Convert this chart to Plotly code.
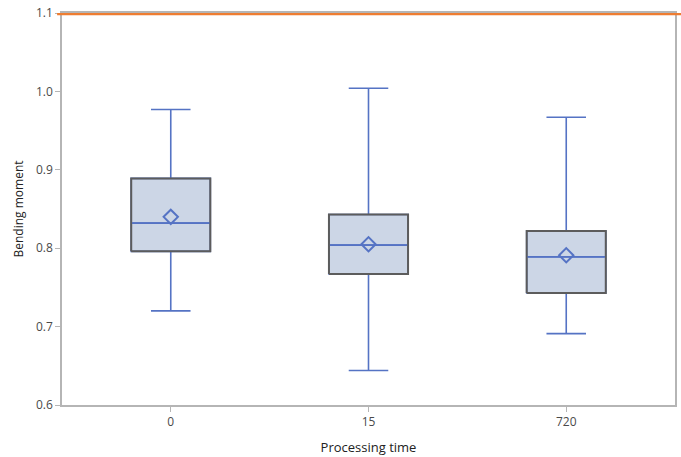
import plotly.graph_objects as go

categories = ["0", "15", "720"]
q1 = [0.796, 0.767, 0.743]
median = [0.832, 0.804, 0.789]
q3 = [0.889, 0.843, 0.822]
lower_whisker = [0.720, 0.644, 0.691]
upper_whisker = [0.977, 1.004, 0.967]
means = [0.840, 0.805, 0.791]

blue = "#5573C4"
fill = "#CCD6E6"
outline = "#5C5C5C"
axis_col = "#B5B5B5"
text_col = "#4A4A4A"
half = 0.2

pos = list(range(len(categories)))

fig = go.Figure()
fig.add_trace(go.Box(
    x=pos, q1=q1, median=median, q3=q3,
    lowerfence=lower_whisker, upperfence=upper_whisker,
    width=2 * half, whiskerwidth=0.5,
    fillcolor=fill, line=dict(color=blue, width=1.6),
    boxpoints=False, showlegend=False, hoverinfo="skip",
))

# gray box outlines on top
rx, ry = [], []
for p, a, b in zip(pos, q1, q3):
    rx += [p - half, p + half, p + half, p - half, p - half, None]
    ry += [a, a, b, b, a, None]
fig.add_trace(go.Scatter(x=rx, y=ry, mode="lines", line=dict(color=outline, width=2),
                         showlegend=False, hoverinfo="skip"))
# redraw medians in blue across box
mx, my = [], []
for p, m in zip(pos, median):
    mx += [p - half + 0.005, p + half - 0.005, None]
    my += [m, m, None]
fig.add_trace(go.Scatter(x=mx, y=my, mode="lines", line=dict(color=blue, width=1.8),
                         showlegend=False, hoverinfo="skip"))

fig.add_trace(go.Scatter(
    x=pos, y=means, mode="markers",
    marker=dict(symbol="diamond-open", size=11, color=blue, line=dict(width=2, color=blue)),
    showlegend=False, hoverinfo="skip",
))

fig.add_shape(type="line", xref="paper", yref="y", x0=-0.008, x1=1.02, y0=1.1, y1=1.1,
              line=dict(color="#EE7D31", width=4.5), layer="above")

fig.update_layout(
    width=681, height=457,
    margin=dict(l=62, r=4, t=9, b=52),
    paper_bgcolor="white", plot_bgcolor="white",
    font=dict(family="Open Sans", size=12, color=text_col),
    xaxis=dict(
        range=[-0.55, 2.55], tickvals=pos, ticktext=categories,
        showline=True, linecolor=axis_col, linewidth=1.5, mirror=True,
        ticks="outside", ticklen=5, tickcolor=axis_col,
        showgrid=False, zeroline=False,
        tickfont=dict(size=12, color=text_col),
        title=dict(text="Processing time", font=dict(size=13, color="#222222"), standoff=14),
    ),
    yaxis=dict(
        range=[0.6, 1.1], dtick=0.1, tickformat=".1f",
        showline=True, linecolor=axis_col, linewidth=1.5, mirror=True,
        ticks="outside", ticklen=5, tickcolor=axis_col,
        showgrid=False, zeroline=False,
        tickfont=dict(size=12, color=text_col),
        title=dict(text="Bending moment", font=dict(size=12, color="#222222"), standoff=10),
    ),
)

fig.write_html("out.html")
